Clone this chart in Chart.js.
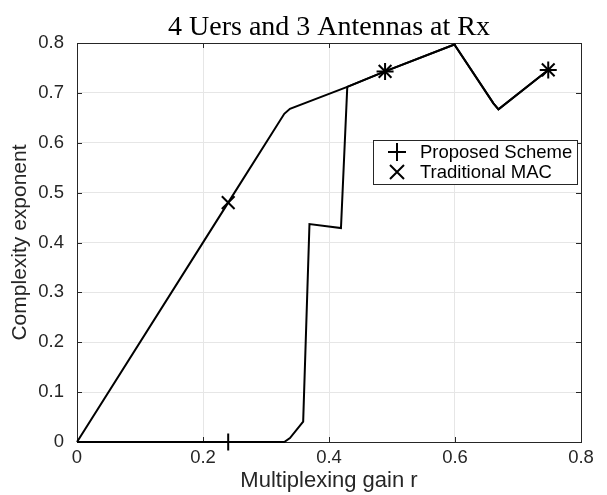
<!DOCTYPE html>
<html>
<head>
<meta charset="utf-8">
<script src="https://cdn.jsdelivr.net/npm/chart.js@4/dist/chart.umd.min.js"></script>
<style>
  html, body { margin: 0; padding: 0; background: #fff; }
</style>
</head>
<body>
<canvas id="grafica" width="607" height="495"></canvas>
<script>
// Datos
const titulo = "4 Uers and 3 Antennas at Rx";
const etiquetaX = "Multiplexing gain r";
const etiquetaY = "Complexity exponent";

const propuestoX = [0, 0.24, 0.329, 0.338, 0.359, 0.369, 0.419, 0.429, 0.489, 0.599, 0.661, 0.669, 0.748];
const propuestoY = [0, 0, 0, 0.008, 0.041, 0.437, 0.429, 0.712, 0.743, 0.797, 0.679, 0.667, 0.746];

const macX = [0, 0.24, 0.329, 0.338, 0.429, 0.489, 0.599, 0.661, 0.669, 0.748];
const macY = [0, 0.48, 0.658, 0.668, 0.712, 0.743, 0.797, 0.679, 0.667, 0.746];

// Posiciones x donde se dibujan los marcadores
const marcadoresX = [0.24, 0.489, 0.748];

const nombres = ["Proposed Scheme", "Traditional MAC"];
const estilos = ["cross", "crossRot"];
const radios = [8.5, 9];

const colorEjes = "#262626";
const fuenteSans = "'Liberation Sans', Arial, sans-serif";

function puntos(xs, ys) {
    return xs.map((x, i) => ({ x: x, y: ys[i] }));
}

function radioMarcador(r) {
    return ctx => {
        const p = ctx.raw;
        return p && marcadoresX.includes(p.x) ? r : 0;
    };
}

// Caja de ejes con marcas hacia dentro (estilo MATLAB)
const cajaEjes = {
    id: "cajaEjes",
    beforeDatasetsDraw(chart) {
        const { ctx, chartArea: a, scales } = chart;
        ctx.save();
        ctx.strokeStyle = colorEjes;
        ctx.lineWidth = 1;
        const largo = 5;
        ctx.beginPath();
        scales.x.ticks.forEach(t => {
            const px = Math.round(scales.x.getPixelForValue(t.value)) + 0.5;
            ctx.moveTo(px, a.bottom); ctx.lineTo(px, a.bottom - largo);
            ctx.moveTo(px, a.top); ctx.lineTo(px, a.top + largo);
        });
        scales.y.ticks.forEach(t => {
            const py = Math.round(scales.y.getPixelForValue(t.value)) + 0.5;
            ctx.moveTo(a.left, py); ctx.lineTo(a.left + largo, py);
            ctx.moveTo(a.right, py); ctx.lineTo(a.right - largo, py);
        });
        ctx.stroke();
        ctx.strokeRect(Math.round(a.left) + 0.5, Math.round(a.top) + 0.5,
            Math.round(a.right - a.left), Math.round(a.bottom - a.top));
        ctx.restore();
    }
};

// Leyenda dentro del area del grafico
const leyenda = {
    id: "leyenda",
    afterDraw(chart) {
        const { ctx, chartArea: a } = chart;
        const ancho = 204, alto = 44;
        const izq = a.right - 4 - ancho;
        const arriba = a.top + 97;
        ctx.save();
        ctx.fillStyle = "#fff";
        ctx.fillRect(izq, arriba, ancho, alto);
        ctx.strokeStyle = colorEjes;
        ctx.lineWidth = 1;
        ctx.strokeRect(Math.round(izq) + 0.5, Math.round(arriba) + 0.5, ancho, alto);

        ctx.font = "18.5px " + fuenteSans;
        ctx.textBaseline = "middle";
        ctx.fillStyle = "#000";
        chart.data.datasets.forEach((ds, i) => {
            const cy = arriba + 12 + i * 20;
            const cx = izq + 24;
            ctx.strokeStyle = "#000";
            ctx.lineWidth = 2;
            ctx.beginPath();
            if (ds.pointStyle === "cross") {
                ctx.moveTo(cx - 9, cy); ctx.lineTo(cx + 9, cy);
                ctx.moveTo(cx, cy - 9); ctx.lineTo(cx, cy + 9);
            } else {
                ctx.moveTo(cx - 7, cy - 7); ctx.lineTo(cx + 7, cy + 7);
                ctx.moveTo(cx - 7, cy + 7); ctx.lineTo(cx + 7, cy - 7);
            }
            ctx.stroke();
            ctx.fillText(ds.label, izq + 47, cy + 1);
        });
        ctx.restore();
    }
};

const series = [puntos(propuestoX, propuestoY), puntos(macX, macY)];

new Chart(document.getElementById("grafica"), {
    type: "line",
    data: {
        datasets: series.map((data, i) => ({
            label: nombres[i],
            data: data,
            borderColor: "#000",
            borderWidth: 2,
            tension: 0,
            fill: false,
            clip: false,
            pointStyle: estilos[i],
            pointRadius: radioMarcador(radios[i]),
            pointHoverRadius: 0,
            pointBorderWidth: 2,
            pointBorderColor: "#000",
            pointBackgroundColor: "#000"
        }))
    },
    options: {
        responsive: false,
        animation: false,
        events: [],
        layout: { padding: { left: 0, right: 26, top: 0, bottom: 0 } },
        plugins: {
            legend: { display: false },
            tooltip: { enabled: false },
            title: {
                display: true,
                fullSize: false,
                text: titulo,
                color: "#000",
                font: { family: "'Liberation Serif', 'Times New Roman', serif", size: 28, weight: "normal", lineHeight: 1 },
                padding: { top: 14, bottom: 1 }
            }
        },
        scales: {
            x: {
                type: "linear",
                min: 0,
                max: 0.8,
                ticks: {
                    stepSize: 0.2,
                    color: colorEjes,
                    padding: 5,
                    font: { family: fuenteSans, size: 18.5 },
                    callback: v => String(+v.toFixed(1))
                },
                grid: { color: "#e6e6e6", drawTicks: false },
                border: { display: false },
                title: {
                    display: true,
                    text: etiquetaX,
                    color: colorEjes,
                    font: { family: fuenteSans, size: 22 },
                    padding: { top: 0, bottom: 1 }
                },
                afterFit: s => { s.height = 53; }
            },
            y: {
                type: "linear",
                min: 0,
                max: 0.8,
                ticks: {
                    stepSize: 0.1,
                    color: colorEjes,
                    padding: 13,
                    font: { family: fuenteSans, size: 18.5 },
                    callback: v => String(+v.toFixed(1))
                },
                grid: { color: "#e6e6e6", drawTicks: false },
                border: { display: false },
                title: {
                    display: true,
                    text: etiquetaY,
                    color: colorEjes,
                    font: { family: fuenteSans, size: 21 },
                    padding: { top: 8, bottom: 0 }
                },
                afterFit: s => { s.width = 77; }
            }
        }
    },
    plugins: [cajaEjes, leyenda]
});
</script>
</body>
</html>
